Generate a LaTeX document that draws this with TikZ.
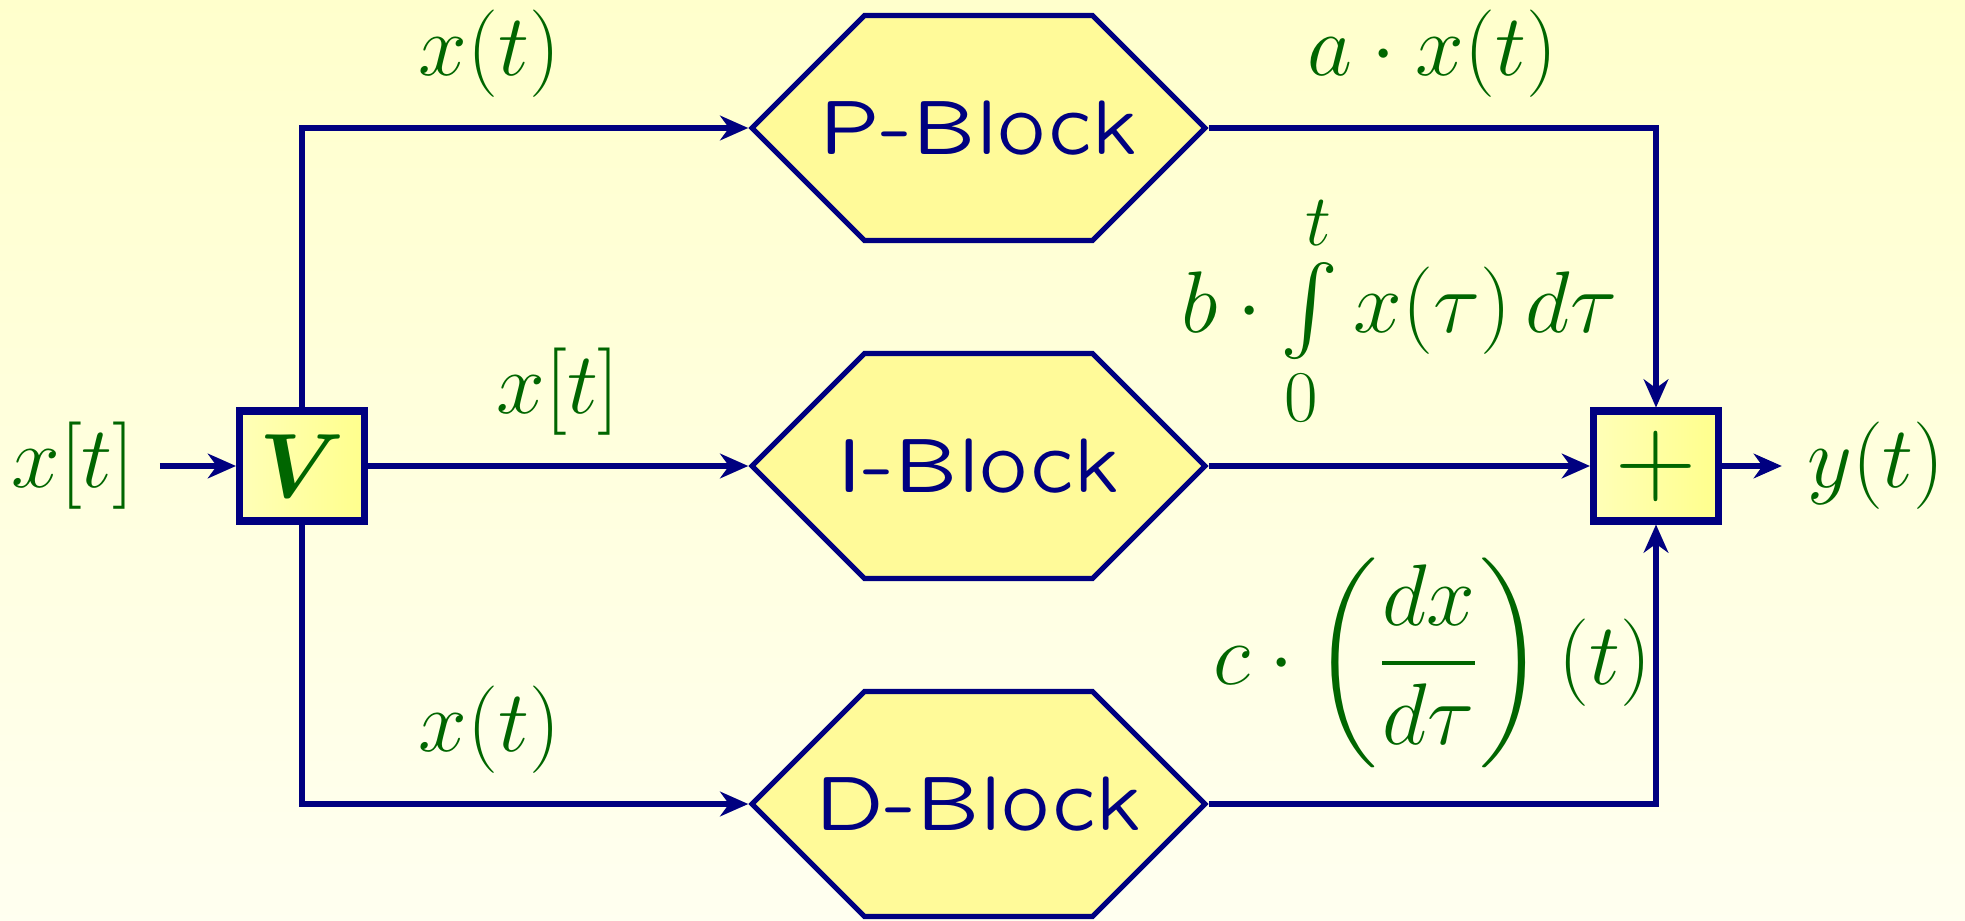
\RequirePackage{fix-cm}
\documentclass[tikz,border=0pt]{standalone}
\usepackage{amsmath,amssymb}
\usepackage{fontspec}
\newfontfamily\blockfont{lmsansquot8-regular.otf}
\usepackage{tikz}
\usetikzlibrary{shapes.symbols,arrows.meta,positioning}

\colorlet{linecol}{blue!50!black}
\colorlet{labelcol}{green!40!black}

\begin{document}
\begin{tikzpicture}[node distance=3.38cm,
  every node/.style={font=\fontsize{24.88}{30}\selectfont},
  blk/.style={signal, signal to=west and east, signal pointer angle=90, draw=linecol, line width=1.5pt,
    fill=yellow!40, minimum width=4.53cm, minimum height=2.25cm, inner sep=0pt,
    label={[text=linecol, font=\fontsize{22}{26}\selectfont\blockfont]center:#1}},
  opbox/.style={rectangle, draw=linecol, line width=2pt, left color=yellow!28, right color=yellow!45,
    minimum width=1.25cm, minimum height=1.1cm, inner sep=0pt, text=labelcol},
  lbl/.style={text=labelcol, inner sep=1pt},
  arr/.style={-{Stealth[length=8pt,width=7pt,inset=2.5pt]}, draw=linecol, line width=1.5pt}]
% background
\fill[top color=yellow!20, bottom color=yellow!6] (0,0) rectangle (19.65,9.2);
\useasboundingbox (0,0) rectangle (19.65,9.2);
% blocks
\node[blk=I-Block] (I) at (9.785,4.54) {};
\node[blk=P-Block, above of=I] (P) {};
\node[blk=D-Block, below of=I] (D) {};
\node[opbox, font=\fontsize{26}{30}\selectfont] (V) at (3.02,4.54) {$\boldsymbol{V}$};
\node[opbox, font=\fontsize{32}{36}\selectfont] (S) at (16.56,4.54) {$+$};
\node[lbl, inner sep=7pt] (in) at (0.73,4.54) {$x[t]$};
\node[lbl, inner sep=7pt, right of=S, node distance=2.2cm] (out) {$y(t)$};
% connections
\draw[arr] (in) -- (V);
\draw[arr] (V) |- node[lbl, pos=0.71, above=7pt] {$x(t)$} (P);
\draw[arr] (V) -- node[lbl, above=7pt] {$x[t]$} (I);
\draw[arr] (V) |- node[lbl, pos=0.71, above=7pt] {$x(t)$} (D);
\draw[arr] (P) -| node[lbl, pos=0.25, above=7pt] {$a\cdot x(t)$} (S);
\draw[arr] (I) -- node[lbl, above=8.5pt] {$b\cdot\int\limits_0^t x(\tau)\,d\tau$} (S);
\draw[arr] (D) -| node[lbl, pos=0.25, above=8.5pt] {$c\cdot\bigg(\dfrac{dx}{d\tau}\bigg)\,(t)$} (S);
\draw[arr] (S) -- (out);
\end{tikzpicture}
\end{document}
